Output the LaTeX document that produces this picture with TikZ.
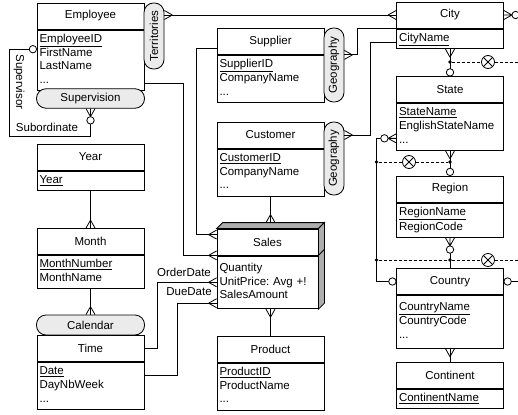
\documentclass[tikz,border=0pt]{standalone}
\usepackage{fontspec}
\setmainfont{Liberation Sans}

% crow's foot and ring tips for the links
\pgfdeclarearrow{
  name = Crow,
  setup code = {
    \pgfarrowssettipend{0pt}
    \pgfarrowssetlineend{0pt}
    \pgfarrowssetbackend{-8pt}
  },
  drawing code = {
    \pgfsetlinewidth{0.8pt}
    \pgfsetdash{}{0pt}
    \pgfpathmoveto{\pgfpoint{-8pt}{0pt}}
    \pgfpathlineto{\pgfpoint{0pt}{4.5pt}}
    \pgfpathmoveto{\pgfpoint{-8pt}{0pt}}
    \pgfpathlineto{\pgfpoint{0pt}{-4.5pt}}
    \pgfusepathqstroke
  }
}
\pgfdeclarearrow{
  name = Ring,
  setup code = {
    \pgfarrowssettipend{0pt}
    \pgfarrowssetlineend{-7.4pt}
    \pgfarrowssetbackend{-7.4pt}
  },
  drawing code = {
    \pgfsetlinewidth{0.8pt}
    \pgfsetdash{}{0pt}
    \pgfsetfillcolor{white}
    \pgfpathcircle{\pgfpoint{-3.7pt}{0pt}}{3.7pt}
    \pgfusepathqfillstroke
  }
}
\pgfdeclarearrow{
  name = CrowO,
  setup code = {
    \pgfarrowssettipend{0pt}
    \pgfarrowssetlineend{-15.4pt}
    \pgfarrowssetbackend{-15.4pt}
  },
  drawing code = {
    \pgfsetlinewidth{0.8pt}
    \pgfsetdash{}{0pt}
    \pgfpathmoveto{\pgfpoint{-8pt}{0pt}}
    \pgfpathlineto{\pgfpoint{0pt}{4.5pt}}
    \pgfpathmoveto{\pgfpoint{-8pt}{0pt}}
    \pgfpathlineto{\pgfpoint{0pt}{-4.5pt}}
    \pgfpathmoveto{\pgfpoint{-8pt}{0pt}}
    \pgfpathlineto{\pgfpoint{0pt}{0pt}}
    \pgfusepathqstroke
    \pgfsetfillcolor{white}
    \pgfpathcircle{\pgfpoint{-11.7pt}{0pt}}{3.7pt}
    \pgfusepathqfillstroke
  }
}

\begin{document}
\begin{tikzpicture}[x=1pt, y=-1pt, line width=0.8pt,
  every node/.style={font=\fontsize{11.5}{13.7}\selectfont},
  ent/.style={draw, fill=white, minimum width=107pt, minimum height=26pt, inner sep=0pt},
  attr/.style={draw, fill=white, anchor=north, text width=102pt, align=left,
    inner xsep=2.5pt, inner ysep=3pt,
    execute at begin node=\strut, execute at end node=\strut,
    path picture={\draw[line width=2pt] (path picture bounding box.north west) -- (path picture bounding box.north east);}},
  pill/.style={draw, fill=black!8, rounded corners=9.5pt, minimum height=19.5pt, inner sep=0pt},
  lbl/.style={inner sep=1pt},
  dot/.style={circle, fill, inner sep=0pt, minimum size=3.6pt},
  exor/.style={circle, draw, fill=white, inner sep=0pt, minimum size=13pt,
    path picture={\draw (path picture bounding box.north west) -- (path picture bounding box.south east)
      (path picture bounding box.north east) -- (path picture bounding box.south west);}},
  dashlink/.style={dash pattern=on 3pt off 2pt}]
\useasboundingbox (0,0) rectangle (518,414);

% left column
\node[ent] (emp) at (90.5,16) {Employee};
\node[attr] (empA) at (emp.south) {\underline{EmployeeID}\\FirstName\\LastName\\...};
\node[pill, minimum width=108pt] (superv) at (90.5,98.5) {Supervision};
\node[pill, rotate=90, minimum width=66pt, minimum height=20pt] (terr) at (154,36) {Territories};
\node[ent] (year) at (90.5,157) {Year};
\node[attr] (yearA) at (year.south) {\underline{Year}};
\node[ent] (month) at (90.5,241.5) {Month};
\node[attr] (monthA) at (month.south) {\underline{MonthNumber}\\MonthName};
\node[pill, minimum width=108pt, minimum height=20pt] (cal) at (90.5,325) {Calendar};
\node[ent] (time) at (90.5,348.5) {Time};
\node[attr] (timeA) at (time.south) {\underline{Date}\\DayNbWeek\\...};

% middle column
\node[ent] (sup) at (270.5,41.5) {Supplier};
\node[attr] (supA) at (sup.south) {\underline{SupplierID}\\CompanyName\\...};
\node[pill, rotate=90, minimum width=74pt, minimum height=20pt] (geoS) at (334,65) {Geography};
\node[ent] (cus) at (270.5,135) {Customer};
\node[attr] (cusA) at (cus.south) {\underline{CustomerID}\\CompanyName\\...};
\node[pill, rotate=90, minimum width=73pt, minimum height=20pt] (geoC) at (334,158.5) {Geography};
\node[ent, minimum width=101pt] (sales) at (267.5,242) {Sales};
\node[attr, text width=96pt, minimum height=53pt] (salesA) at (sales.south) {Quantity\\UnitPrice:\ Avg +!\\SalesAmount};
\draw[fill=black!32] (sales.north west) -- ++(6,-6) -- ([shift={(6,-6)}]sales.north east) -- (sales.north east) -- cycle;
\draw[fill=black!32] (sales.north east) -- ++(6,-6) -- ([shift={(6,-6)}]salesA.south east) -- (salesA.south east) -- cycle;
\draw (sales.south east) -- ++(6,-6);
\coordinate (salestop) at ([shift={(3,-6)}]sales.north);
\node[ent] (prod) at (270.5,349) {Product};
\node[attr] (prodA) at (prod.south) {\underline{ProductID}\\ProductName\\...};

% geography hierarchy
\node[ent] (city) at (450,15) {City};
\node[attr] (cityA) at (city.south) {\underline{CityName}};
\node[ent] (state) at (450,89.5) {State};
\node[attr] (stateA) at (state.south) {\underline{StateName}\\EnglishStateName\\...};
\node[ent] (region) at (450,189) {Region};
\node[attr] (regionA) at (region.south) {\underline{RegionName}\\RegionCode};
\node[ent] (country) at (450,281.5) {Country};
\node[attr, minimum height=53pt] (countryA) at (country.south) {\underline{CountryName}\\CountryCode\\...};
\node[ent] (cont) at (450,375) {Continent};
\node[attr] (contA) at (cont.south) {\underline{ContinentName}};
\coordinate (cityout) at (518,15);
\coordinate (countryout) at (518,281.5);

% role names
\node[lbl, rotate=-90] (supervisor) at (19,82) {Supervisor};
\node[lbl] (subordinate) at (47,127) {Subordinate};
\node[lbl] (orderdate) at (184,272) {OrderDate};
\node[lbl] (duedate) at (189,292) {DueDate};

% links
\draw[Ring-CrowO] ([yshift=11pt]empA.west) -- ++(-27,0) -- ++(0,87) -| (superv.south);
\draw[Crow-Crow] (terr.south |- city.west) -- (city.west);
\draw[-Crow] ([yshift=-23pt]empA.east) -- ++(39,0) |- (sales.south west);
\draw[-Crow] ([yshift=-7pt]sup.west) -- ++(-20,0) |- ([yshift=-6pt]sales.north west);
\draw[Crow-] (geoS.south |- sup.south) -- ++(13,0) |- (city.south west);
\draw[Crow-] (geoC.south |- cus.east) -- ++(26,0) |- ([yshift=-4pt]cityA.west);
\draw[-Crow] (cusA.south) -- (salestop);
\draw[-Crow] (prod.north) -- (prod.north |- salesA.south);
\draw[-Crow] (time.east) -- ++(13,0) |- (salesA.west);
\draw[-Crow] ([yshift=10pt]timeA.east) -- ++(33,0) |- ([yshift=6pt]salesA.south west);
\draw[-Crow] (yearA.south) -- (month.north);
\draw[-Crow] (monthA.south) -- (cal.north);
\draw[CrowO-] (city.east) -- (cityout);
\draw[Crow-Ring] (cityA.south) -- (state.north);
\draw[Crow-Ring] (stateA.south) -- (region.north);
\draw[CrowO-] (regionA.south) -- (country.north);
\draw[Crow-] (countryA.south) -- (cont.north);
\draw[CrowO-Ring] ([yshift=-11.5pt]stateA.west) -- ++(-20,0) |- (country.west);
\draw[Ring-] (country.east) -- (countryout);

% exclusive constraints
\node[dot] (d1) at (450,62) {};
\node[exor] (x1) at (488,62) {};
\coordinate (out1) at (518,62);
\draw[dashlink] (d1) -- (x1) -- (out1);
\node[dot] (d2) at (376.5,162) {};
\node[dot] (d3) at (450,162) {};
\node[exor] (x2) at (409,162) {};
\draw[dashlink] (d2) -- (x2) -- (d3);
\node[dot] (d4) at (376.5,260) {};
\node[dot] (d5) at (450,260) {};
\node[exor] (x3) at (488,260) {};
\coordinate (out3) at (518,260);
\draw[dashlink] (d4) -- (d5) -- (x3) -- (out3);
\end{tikzpicture}
\end{document}
